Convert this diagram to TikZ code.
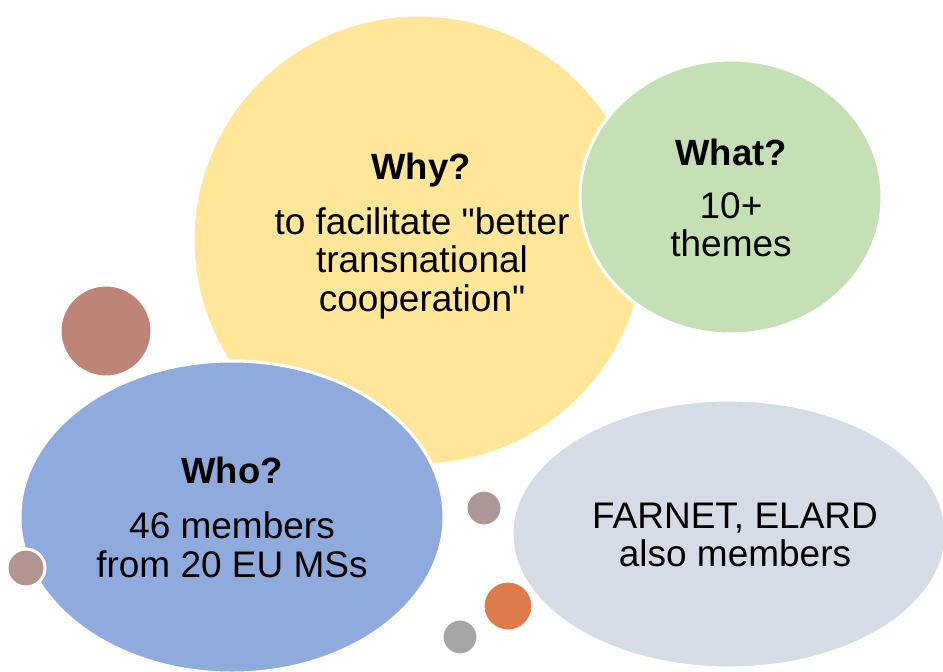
\documentclass[tikz,border=0pt]{standalone}
\usepackage{fontspec}
\setmainfont{Liberation Sans}[Ligatures=TeXOff]
\definecolor{cyellow}{HTML}{FFE699}
\definecolor{cgreen}{HTML}{C5E0B4}
\definecolor{cblue}{HTML}{8FAADC}
\definecolor{cgray}{HTML}{D6DCE5}
\definecolor{cbrown}{HTML}{BD8577}
\definecolor{cmauve}{HTML}{AD9696}
\definecolor{corange}{HTML}{DE7B4A}
\definecolor{cdot}{HTML}{A5A5A5}
\definecolor{cpink}{HTML}{B39490}
\begin{document}
\begin{tikzpicture}[x=1pt,y=-1pt,
  bub/.style={draw=white,line width=3pt},
  ttl/.style={font=\fontsize{36.5}{39}\selectfont\bfseries,align=center,inner sep=0pt},
  txt/.style={font=\fontsize{37}{38.5}\selectfont,align=center,inner sep=0pt}]
\useasboundingbox (0,0) rectangle (943,672);
\fill[white] (0,0) rectangle (943,672);
\filldraw[bub,fill=cyellow] (419,240) ellipse [x radius=226pt,y radius=225pt];
\filldraw[bub,fill=cgreen] (731,197) ellipse [x radius=151pt,y radius=137pt];
\filldraw[bub,fill=cblue] (232,517) ellipse [x radius=212pt,y radius=156pt];
\filldraw[bub,fill=cgray] (729,534) ellipse [x radius=217pt,y radius=134pt];
\filldraw[bub,fill=cbrown] (106,331) circle [radius=46pt];
\filldraw[bub,fill=cmauve] (484,508) circle [radius=18pt];
\filldraw[bub,fill=corange] (508,606) circle [radius=25pt];
\filldraw[bub,fill=cdot] (460,637) circle [radius=18pt];
\filldraw[bub,fill=cpink] (26,568) circle [radius=19pt];
\node[ttl] (why) at (421,170) {Why?};
\node[txt] (whyt) at (422,263) {to facilitate "better\\transnational\\cooperation"};
\node[ttl] (what) at (731,152) {What?};
\node[txt] (whatt) at (731,225) {10+\\themes};
\node[ttl] (who) at (232,470) {Who?};
\node[txt] (whot) at (232,545) {46 members\\from 20 EU MSs};
\node[txt] (far) at (735,535) {FARNET, ELARD\\also members};
\end{tikzpicture}
\end{document}
